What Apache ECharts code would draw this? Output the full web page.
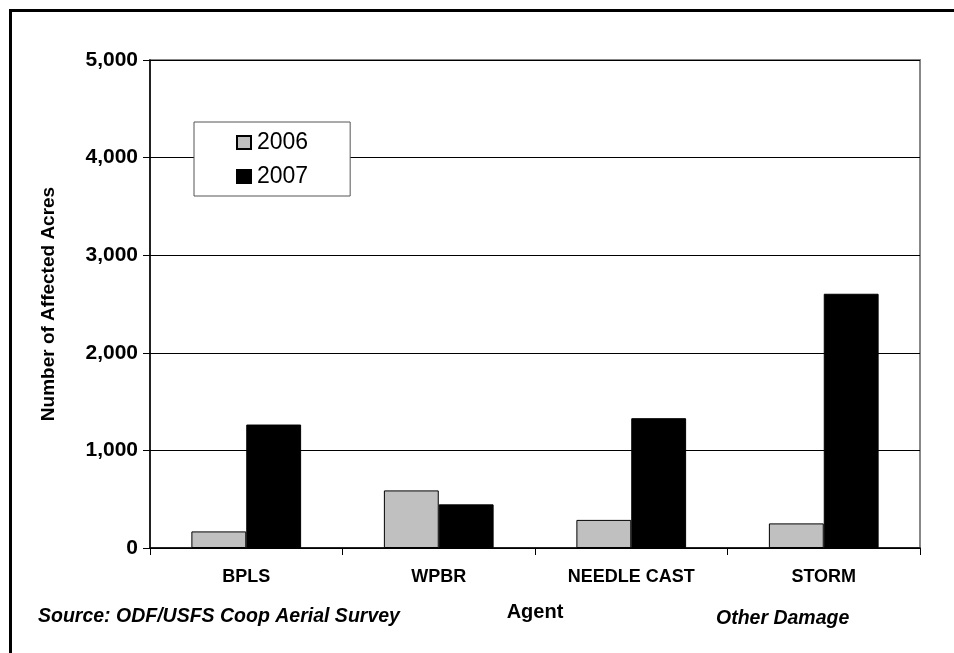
<!DOCTYPE html>
<html>
<head>
<meta charset="utf-8">
<script src="https://cdn.jsdelivr.net/npm/echarts@6/dist/echarts.min.js"></script>
<style>
html,body{margin:0;padding:0;background:#fff;}
#c{width:954px;height:653px;}
</style>
</head>
<body>
<div id="c"></div>
<script>
const categories = ['BPLS', 'WPBR', 'NEEDLE CAST', 'STORM'];
const values2006 = [170, 590, 288, 252];
const values2007 = [1265, 447, 1330, 2605];
const seriesNames = ['2006', '2007'];
const yTicks = { min: 0, max: 5000, interval: 1000 };

const FONT = 'Liberation Sans, Arial, sans-serif';
const chart = echarts.init(document.getElementById('c'), null, { renderer: 'canvas' });
chart.setOption({
  animation: false,
  backgroundColor: '#fff',
  grid: {
    left: 150, right: 34, top: 60, bottom: 105,
    show: true, borderColor: '#888', borderWidth: 2, backgroundColor: 'transparent'
  },
  legend: {
    orient: 'vertical',
    left: 194, top: 122,
    padding: [9, 42, 8, 42],
    itemGap: 11,
    itemWidth: 14, itemHeight: 13,
    backgroundColor: '#fff',
    borderColor: '#555', borderWidth: 1,
    icon: 'rect',
    textStyle: { fontFamily: FONT, fontSize: 23, color: '#000', padding: [0, 0, 0, 1] },
    data: seriesNames
  },
  xAxis: {
    type: 'category',
    data: categories,
    name: 'Agent',
    nameLocation: 'middle',
    nameGap: 54,
    nameTextStyle: { fontFamily: FONT, fontSize: 20, fontWeight: 'bold', color: '#000' },
    axisLine: { lineStyle: { color: '#000', width: 1.5 } },
    axisTick: { show: true, alignWithLabel: false, length: 7, lineStyle: { color: '#000' } },
    axisLabel: { fontFamily: FONT, fontSize: 18, fontWeight: 'bold', color: '#000', margin: 20 }
  },
  yAxis: {
    type: 'value',
    min: yTicks.min, max: yTicks.max, interval: yTicks.interval,
    name: 'Number of Affected Acres',
    nameLocation: 'middle',
    nameGap: 92,
    nameTextStyle: { fontFamily: FONT, fontSize: 19, fontWeight: 'bold', color: '#000' },
    axisLine: { show: true, lineStyle: { color: '#000', width: 1.5 } },
    axisTick: { show: true, length: 7, lineStyle: { color: '#000' } },
    axisLabel: {
      fontFamily: FONT, fontSize: 21, fontWeight: 'bold', color: '#000', margin: 12,
      formatter: v => v.toLocaleString('en-US')
    },
    splitLine: { show: true, lineStyle: { color: '#000', width: 1 } }
  },
  series: [
    {
      name: seriesNames[0], type: 'bar', data: values2006,
      barGap: '0%', barCategoryGap: '43%',
      itemStyle: { color: '#c0c0c0', borderColor: '#000', borderWidth: 1 }
    },
    {
      name: seriesNames[1], type: 'bar', data: values2007,
      barGap: '0%', barCategoryGap: '43%',
      itemStyle: { color: '#000', borderColor: '#000', borderWidth: 1 }
    }
  ],
  graphic: [
    {
      type: 'rect', left: 8, top: 8, silent: true,
      shape: { x: 0, y: 0, width: 1000, height: 700 },
      style: { fill: 'none', stroke: '#000', lineWidth: 3 }
    },
    {
      type: 'text', left: 38, top: 607,
      style: { text: 'Source: ODF/USFS Coop Aerial Survey', font: 'italic bold 19.5px ' + FONT, fill: '#000' }
    },
    {
      type: 'text', left: 716, top: 609,
      style: { text: 'Other Damage', font: 'italic bold 19.5px ' + FONT, fill: '#000' }
    }
  ]
});
</script>
</body>
</html>
